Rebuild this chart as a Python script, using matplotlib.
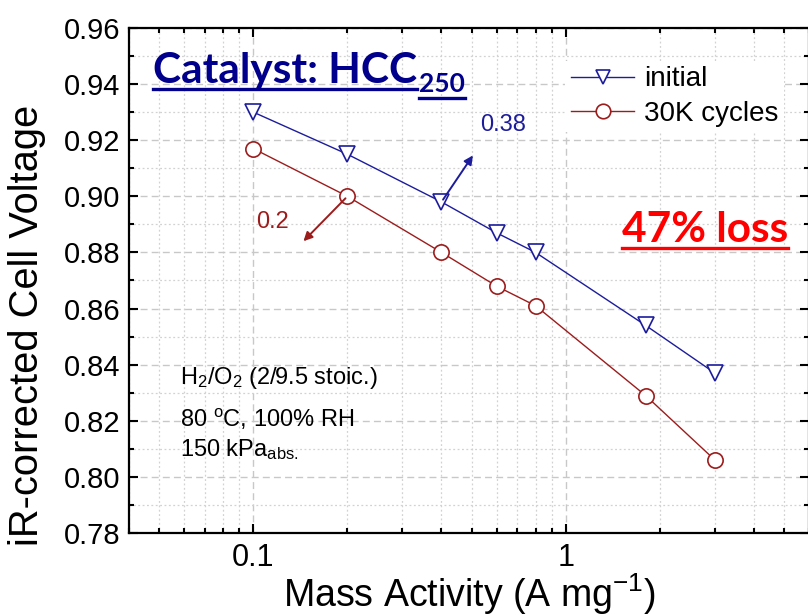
import numpy as np
import matplotlib.pyplot as plt
from matplotlib.lines import Line2D
from matplotlib.ticker import LogLocator, MultipleLocator, FixedLocator, NullFormatter

plt.rcParams['font.family'] = ['Liberation Sans', 'DejaVu Sans']
plt.rcParams['mathtext.fontset'] = 'custom'
plt.rcParams['mathtext.rm'] = 'Liberation Sans'
plt.rcParams['mathtext.it'] = 'Liberation Sans:italic'
plt.rcParams['mathtext.bf'] = 'Liberation Sans:bold'

# mass activity (A/mg) and iR-corrected voltage (V)
mass_activity = [0.1, 0.2, 0.4, 0.6, 0.8, 1.8, 3.0]
v_initial = [0.930, 0.915, 0.898, 0.887, 0.880, 0.854, 0.837]
v_30k = [0.917, 0.900, 0.880, 0.868, 0.861, 0.829, 0.806]
series_labels = ['initial', '30K cycles']

blue = '#1c1c9c'
red = '#9c1c1c'
navy = '#00008c'

fig = plt.figure(figsize=(8.08, 6.16), dpi=100)
W, H = 808, 616
ax = fig.add_axes([129 / W, 1 - 533 / H, (809 - 129) / W, (533 - 28) / H])

ax.plot(mass_activity, v_initial, color=blue, lw=1.0, marker='v', ms=11,
        mfc='white', mec=blue, mew=1.2, label=series_labels[0], zorder=3)
ax.plot(mass_activity, v_30k, color=red, lw=1.0, marker='o', ms=11,
        mfc='white', mec=red, mew=1.2, label=series_labels[1], zorder=3)

ax.set_xscale('log')
ax.set_xlim(0.04, 6)
ax.set_ylim(0.78, 0.96)

ax.xaxis.set_major_locator(FixedLocator([0.1, 1]))
ax.xaxis.set_minor_locator(LogLocator(base=10, subs=np.arange(2, 10)))
ax.xaxis.set_minor_formatter(NullFormatter())
ax.set_xticklabels(['0.1', '1'])
ax.yaxis.set_major_locator(MultipleLocator(0.02))
ax.yaxis.set_minor_locator(MultipleLocator(0.01))
ax.yaxis.set_major_formatter(plt.FormatStrFormatter('%.2f'))

ax.tick_params(which='both', direction='in', top=True, right=True, width=1.5, colors='black')
ax.tick_params(which='major', length=6.5)
ax.tick_params(which='minor', length=3.8)
ax.tick_params(axis='y', which='major', labelsize=21, pad=6)
ax.tick_params(axis='x', which='major', labelsize=22, pad=7)
for s in ax.spines.values():
    s.set_linewidth(1.6)

ax.grid(which='major', color='#c8c8c8', ls=(0, (5, 3)), lw=1.0)
ax.grid(which='minor', color='#d2d2d2', ls=(0, (1.5, 2)), lw=0.9)
ax.set_axisbelow(True)

ax.set_xlabel('Mass Activity (A mg$^{-1}$)', fontsize=27)
ax.xaxis.set_label_coords((469 - 129) / 680, -(594 - 533) / 505)
ax.set_ylabel('iR-corrected Cell Voltage', fontsize=28.7)
ax.yaxis.set_label_coords(-(129 - 27) / 680, (533 - 325) / 505)
ax.xaxis.label.set_va('center')
ax.yaxis.label.set_va('center')

leg = ax.legend(loc='upper right', bbox_to_anchor=(798 / W, 1 - 47 / H),
                bbox_transform=fig.transFigure, fontsize=20, frameon=True,
                edgecolor='none', facecolor='white', framealpha=1, fancybox=False,
                handlelength=2.3, handletextpad=0.35, labelspacing=0.3,
                borderpad=0.2, markerscale=0.95)

# slope arrows
ax.annotate('', xy=(0.51, 0.9154), xytext=(0.4, 0.898),
            arrowprops=dict(arrowstyle='-|>', color=blue, lw=1.4, mutation_scale=13))
ax.text(0.63, 0.9254, '0.38', color=blue, fontsize=17, ha='center', va='center')
ax.annotate('', xy=(0.1426, 0.8833), xytext=(0.2, 0.900),
            arrowprops=dict(arrowstyle='-|>', color=red, lw=1.4, mutation_scale=13))
ax.text(0.115, 0.8908, '0.2', color=red, fontsize=17, ha='center', va='center')

conditions = ['H$_2$/O$_2$ (2/9.5 stoic.)', '80 $^{\\rm o}$C, 100% RH', '150 kPa$_{\\rm abs.}$']
for line, ypx in zip(conditions, [384, 427, 456]):
    fig.text(180 / W, 1 - ypx / H, line, fontsize=17, ha='left', va='baseline')

# title with subscript, both underlined
title = fig.text(153 / W, 1 - 83 / H, 'Catalyst: HCC', fontsize=30.5, fontweight='bold',
                 family='Lato', color=navy, ha='left', va='baseline')
fig.canvas.draw()
r = fig.canvas.get_renderer()
tb = title.get_window_extent(r)
sub = fig.text(tb.x1 / W + 2 / W, 1 - 92 / H, '250', fontsize=19, fontweight='bold',
               family='Lato', color=navy, ha='left', va='baseline')
loss = fig.text(622 / W, 1 - 242 / H, '47% loss', fontsize=30.5, fontweight='bold',
                family='Lato', color='#ff0000', ha='left', va='baseline')
fig.canvas.draw()
sb = sub.get_window_extent(r)
lb = loss.get_window_extent(r)
fig.add_artist(Line2D([tb.x0 / W, tb.x1 / W], [1 - 89 / H] * 2, color=navy, lw=2.4))
fig.add_artist(Line2D([sb.x0 / W, sb.x1 / W], [1 - 98 / H] * 2, color=navy, lw=2.4))
fig.add_artist(Line2D([lb.x0 / W, lb.x1 / W], [1 - 248 / H] * 2, color='#ff0000', lw=2.4))

fig.savefig('out.png', dpi=100)
